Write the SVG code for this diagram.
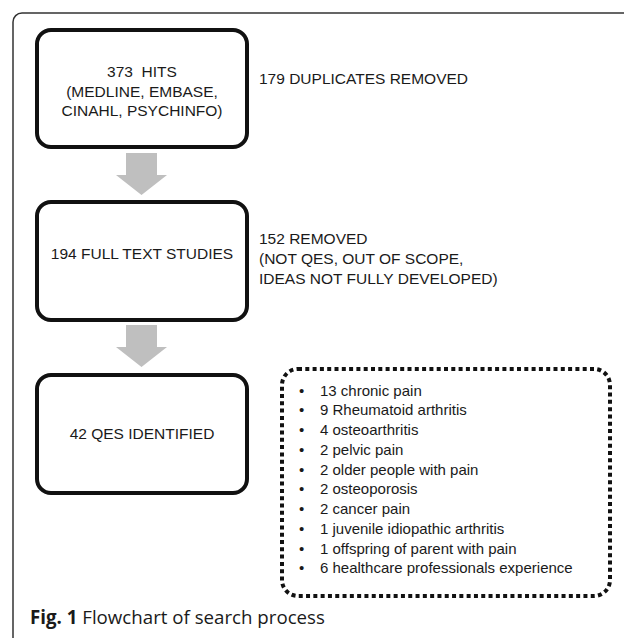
<svg xmlns="http://www.w3.org/2000/svg" width="624" height="638" viewBox="0 0 624 638">
<style>
.box{fill:#fff;stroke:#111;stroke-width:4}
.t{font-family:"Liberation Sans",Arial,sans-serif;font-size:15.5px;fill:#1a1a1a}
.c{text-anchor:middle}
.li{font-family:"Liberation Sans",Arial,sans-serif;font-size:15px;fill:#1a1a1a}
.arr{fill:#bfbfbf}
.cap{font-family:"Open Sans","Noto Sans",sans-serif;font-size:18.7px;fill:#1a1a1a}
</style>
<rect width="624" height="638" fill="#fff"/>
<rect x="13" y="13" width="700" height="700" rx="9" fill="none" stroke="#333" stroke-width="1.5"/>
<g id="connectors">
<polygon class="arr" points="126,153 157,153 157,175 167,175 141.5,195 116,175 126,175"/>
<polygon class="arr" points="126,325 157,325 157,347 167,347 141.5,367 116,347 126,347"/>
</g>
<g id="hits">
<rect class="box" x="37" y="30" width="210" height="117" rx="14"/>
<text class="t c" x="142" y="77">373&#160; HITS</text>
<text class="t c" x="142" y="96.5">(MEDLINE, EMBASE,</text>
<text class="t c" x="142" y="116">CINAHL, PSYCHINFO)</text>
</g>
<g id="duplicates">
<text class="t" x="259" y="84">179 DUPLICATES REMOVED</text>
</g>
<g id="fulltext">
<rect class="box" x="37" y="202" width="210" height="118" rx="14"/>
<text class="t c" x="142" y="259">194 FULL TEXT STUDIES</text>
</g>
<g id="removed">
<text class="t" x="259" y="244">152 REMOVED</text>
<text class="t" x="259" y="264">(NOT QES, OUT OF SCOPE,</text>
<text class="t" x="259" y="284">IDEAS NOT FULLY DEVELOPED)</text>
</g>
<g id="identified">
<rect class="box" x="37" y="375" width="210" height="118" rx="14"/>
<text class="t c" x="142" y="439">42 QES IDENTIFIED</text>
</g>
<g id="list">
<rect x="282" y="369" width="328" height="227" rx="16" fill="none" stroke="#111" stroke-width="4" stroke-dasharray="4 3.3"/>
<g class="li">
<text x="299" y="395.5">•</text><text x="320" y="395.5">13 chronic pain</text>
<text x="299" y="415.2">•</text><text x="320" y="415.2">9 Rheumatoid arthritis</text>
<text x="299" y="435">•</text><text x="320" y="435">4 osteoarthritis</text>
<text x="299" y="454.7">•</text><text x="320" y="454.7">2 pelvic pain</text>
<text x="299" y="474.5">•</text><text x="320" y="474.5">2 older people with pain</text>
<text x="299" y="494.2">•</text><text x="320" y="494.2">2 osteoporosis</text>
<text x="299" y="514">•</text><text x="320" y="514">2 cancer pain</text>
<text x="299" y="533.7">•</text><text x="320" y="533.7">1 juvenile idiopathic arthritis</text>
<text x="299" y="553.5">•</text><text x="320" y="553.5">1 offspring of parent with pain</text>
<text x="299" y="573.2">•</text><text x="320" y="573.2">6 healthcare professionals experience</text>
</g>
</g>
<text class="cap" x="30" y="624"><tspan font-weight="bold">Fig. 1</tspan> Flowchart of search process</text>
</svg>
